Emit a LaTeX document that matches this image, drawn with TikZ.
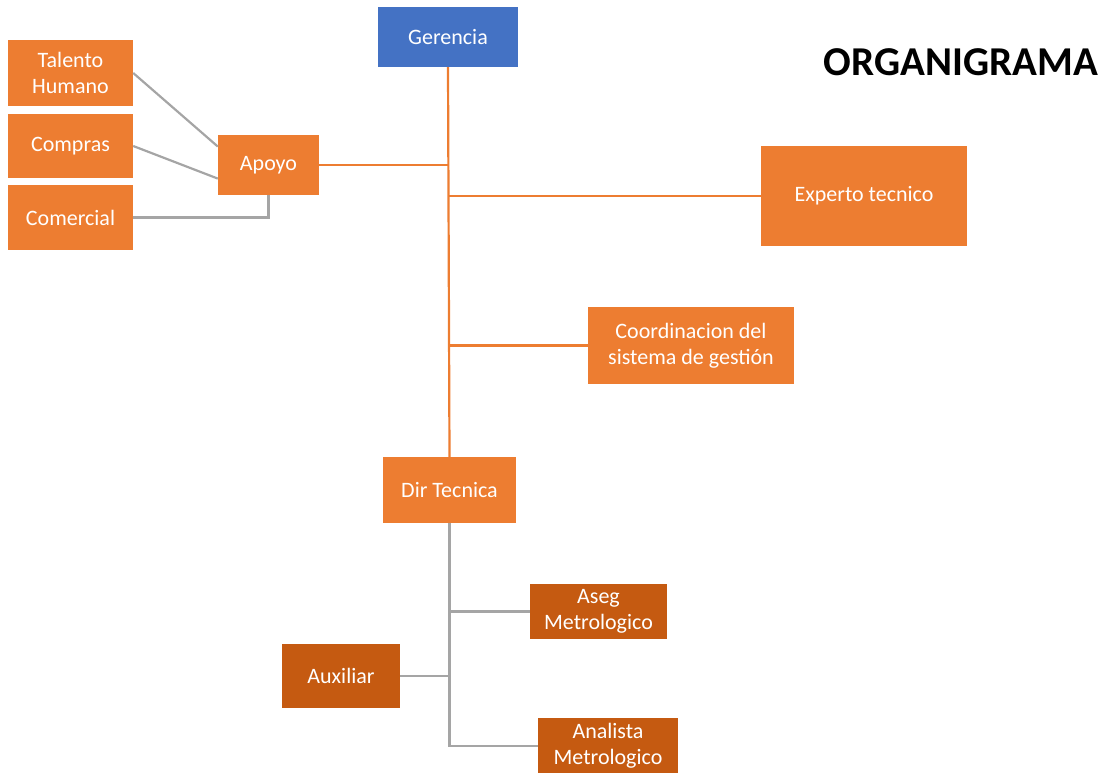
\documentclass[tikz,border=0pt]{standalone}
\usepackage{fontspec}
\setmainfont{Carlito}
\usepackage{tikz}
\usetikzlibrary{positioning,calc}
\definecolor{OrgOrange}{HTML}{ED7D31}
\definecolor{OrgDark}{HTML}{C55A11}
\definecolor{OrgBlue}{HTML}{4472C4}
\definecolor{LineGray}{HTML}{A5A5A5}

\begin{document}
\begin{tikzpicture}[
    x=1pt, y=-1pt,
    font=\fontsize{22}{26}\selectfont,
    unit/.style={fill=OrgOrange, text=white, align=center, inner sep=2pt},
    sub/.style={fill=OrgDark, text=white, align=center, inner sep=2pt},
    head/.style={fill=OrgBlue, text=white, align=center, inner sep=2pt},
    trunk/.style={draw=OrgOrange, line width=2.2pt},
    link/.style={draw=LineGray, line width=2.2pt}
]
\useasboundingbox (0,0) rectangle (1112,773);

% cabeza y titulo
\node[head, minimum width=140, minimum height=60] (ger) at (448,37) {Gerencia};
\node[font=\fontsize{41}{48}\selectfont\bfseries] (title) at (961,62) {ORGANIGRAMA};

% area de apoyo
\node[unit, minimum width=125, minimum height=66] (talento) at (70.5,73) {Talento\\Humano};
\node[unit, minimum width=125, minimum height=64] (compras) at (70.5,146) {Compras};
\node[unit, minimum width=125, minimum height=65] (comercial) at (70.5,217.5) {Comercial};
\node[unit, minimum width=101, minimum height=60] (apoyo) at (268.5,165) {Apoyo};

% areas de la gerencia
\node[unit, minimum width=206, minimum height=100] (experto) at (864,196) {Experto tecnico};
\node[unit, minimum width=206, minimum height=77] (coord) at (691,345.5) {Coordinacion del\\sistema de gestión};
\node[unit, minimum width=133, minimum height=66] (dir) at (449.5,490) {Dir Tecnica};

% direccion tecnica
\node[sub, minimum width=137, minimum height=55] (aseg) at (598.5,611.5) {Aseg\\Metrologico};
\node[sub, minimum width=118, minimum height=64] (aux) at (341,676) {Auxiliar};
\node[sub, minimum width=140, minimum height=56] (analista) at (608,746) {Analista\\Metrologico};

% conectores
\draw[trunk] (ger.south) -- (dir.north);
\draw[trunk] (apoyo.east) -- (apoyo.east -| ger.south);
\draw[trunk] (experto.west) -- (experto.west -| ger.south);
\draw[trunk] (coord.west) -- (coord.west -| ger.south);

\draw[link] (talento.east) -- (apoyo.160);
\draw[link] (compras.east) -- (apoyo.195);
\draw[link] (comercial.east) -| (apoyo.south);

\draw[link] (analista.west) -| (dir.south);
\draw[link] (aseg.west) -- (aseg.west -| dir.south);
\draw[link] (aux.east) -- (aux.east -| dir.south);
\end{tikzpicture}
\end{document}
